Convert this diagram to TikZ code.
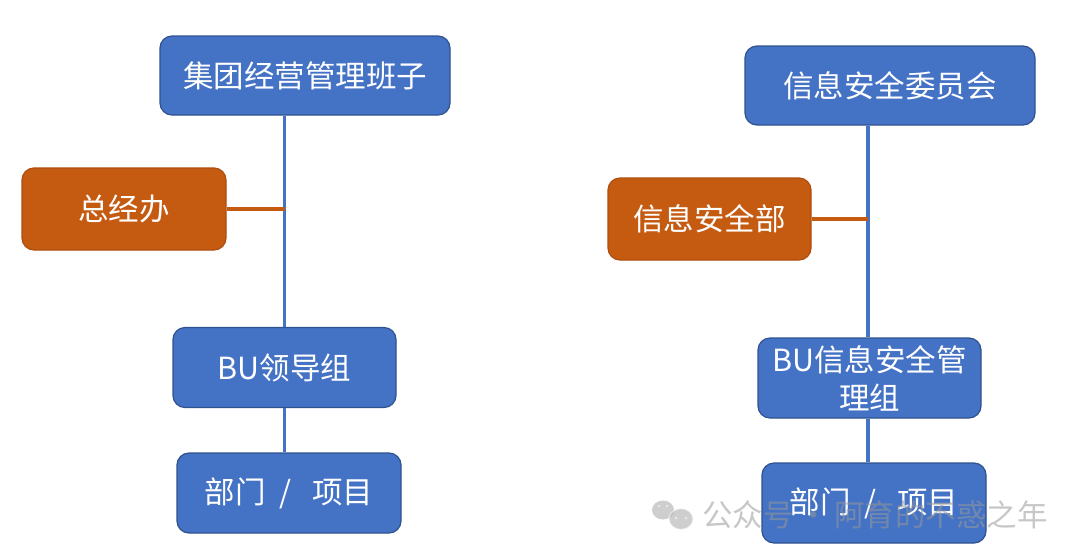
\documentclass[tikz,border=0pt]{standalone}
\usepackage{fontspec}
\newfontfamily\cjk{Noto Sans CJK SC}
\definecolor{boxblue}{HTML}{4472C4}
\definecolor{boxblueline}{HTML}{2F528F}
\definecolor{boxorange}{HTML}{C55A11}
\definecolor{boxorangeline}{HTML}{AE4E0E}
\tikzset{
  bluebox/.style={draw=boxblueline, line width=1.2pt, fill=boxblue, rounded corners=12pt,
    text=white, font=\cjk\fontsize{30.5}{41}\selectfont, inner sep=0pt, align=center},
  orangebox/.style={draw=boxorangeline, line width=1.2pt, fill=boxorange, rounded corners=12pt,
    text=white, font=\cjk\fontsize{30.5}{41}\selectfont, inner sep=0pt, align=center},
  blueline/.style={draw=boxblue, line width=3.2pt},
  orangeline/.style={draw=boxorange, line width=3.2pt},
}
\begin{document}
\begin{tikzpicture}[x=1pt,y=-1pt]
\useasboundingbox (0,0) rectangle (1080,558);
\fill[white] (0,0) rectangle (1080,558);
% left tree
\node[bluebox, minimum width=290pt, minimum height=79pt] (top1) at (305,75.5) {集团经营管理班子};
\node[orangebox, minimum width=204pt, minimum height=82pt] (zjb) at (124,209) {总经办};
\node[bluebox, minimum width=223pt, minimum height=80pt] (bu1) at (284.5,367.5) {BU领导组};
\node[bluebox, minimum width=224pt, minimum height=80pt] (bm1) at (289,493) {部门\ \ /\ \ \ 项目};
% right tree
\node[bluebox, minimum width=290pt, minimum height=79pt] (top2) at (890,85.5) {信息安全委员会};
\node[orangebox, minimum width=203pt, minimum height=82pt] (xab) at (709.5,219) {信息安全部};
\node[bluebox, minimum width=223pt, minimum height=80pt] (bu2) at (869.5,378) {BU信息安全管\\[-3pt]理组};
\node[bluebox, minimum width=224pt, minimum height=80pt] (bm2) at (874,503) {部门\ \ /\ \ \ 项目};
% connectors left
\draw[blueline] (bu1.north |- top1.south) -- (bu1.north);
\draw[blueline] (bu1.south) -- (bu1.south |- bm1.north);
\draw[orangeline] (zjb.east) -- (zjb.east -| bu1.north);
% connectors right
\draw[blueline] ([xshift=-1.5pt]bu2.north |- top2.south) -- ([xshift=-1.5pt]bu2.north);
\draw[blueline] ([xshift=-1.5pt]bu2.south) -- ([xshift=-1.5pt]bu2.south |- bm2.north);
\draw[orangeline] (xab.east) -- ([xshift=-1.5pt]xab.east -| bu2.north);
% watermark
\begin{scope}[opacity=0.55]
\fill[gray!70] (663,510) ellipse (11pt and 9.5pt);
\fill[gray!70] (681,519) ellipse (12pt and 10.5pt);
\draw[white, line width=1.2pt] (681,519) ellipse (12pt and 10.5pt);
\fill[white] (676,518) circle (1.5pt) (686,518) circle (1.5pt);
\fill[white] (659,506) circle (1.4pt) (667,506) circle (1.4pt);
\node[text=gray!80, font=\cjk\fontsize{30.5}{31}\selectfont, anchor=west, inner sep=0pt] (wm) at (702,515) {公众号\,·\,阿育的不惑之年};
\end{scope}
\end{tikzpicture}
\end{document}
